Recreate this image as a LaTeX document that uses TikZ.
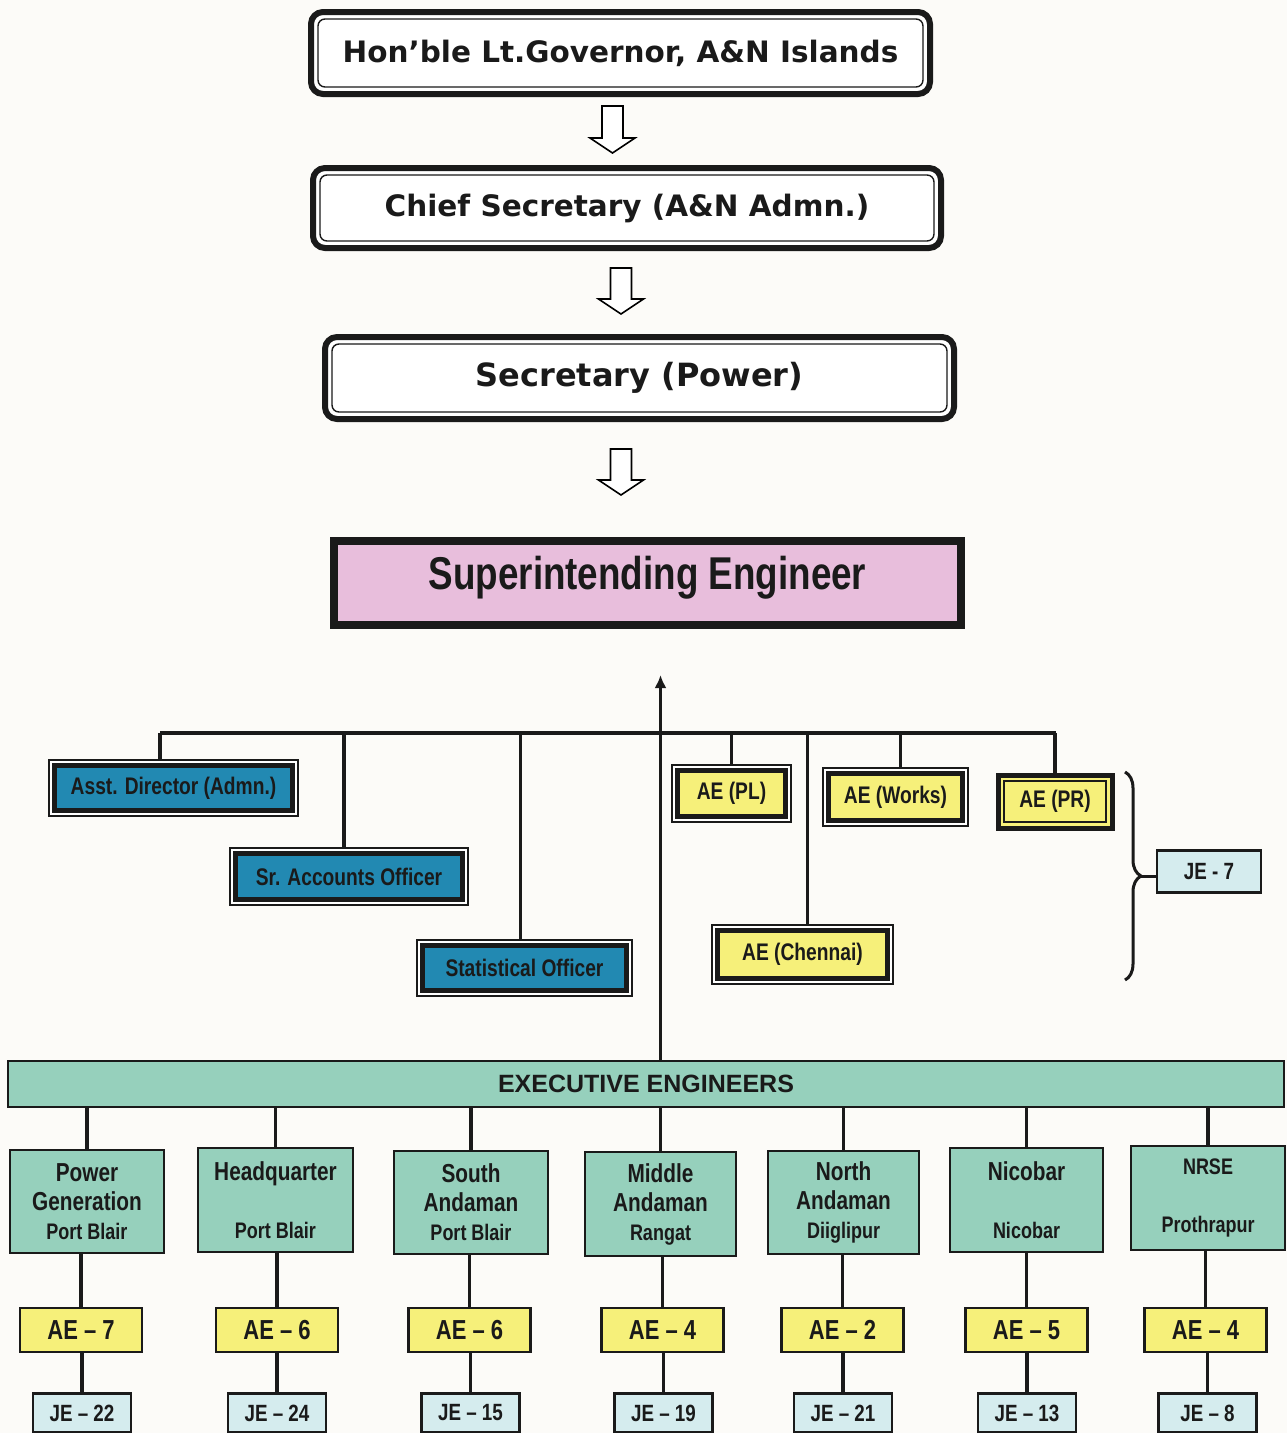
\documentclass[tikz,border=0pt]{standalone}
\usepackage{fontspec}
\setmainfont{Liberation Sans}
\newfontfamily\verdfont{DejaVu Sans}
\newfontfamily\narrfont[FakeStretch=0.8]{Liberation Sans}
\usetikzlibrary{arrows.meta,decorations.pathreplacing,calc}
\definecolor{inkc}{HTML}{1A1A1A}
\definecolor{tealbl}{HTML}{2289B2}
\definecolor{aeyel}{HTML}{F6F07A}
\definecolor{jeblue}{HTML}{D5ECEE}
\definecolor{eegreen}{HTML}{96D0BC}
\definecolor{sepink}{HTML}{E8BEDC}
\definecolor{paper}{HTML}{FCFBF8}
\newcommand{\fsz}[1]{\fontsize{#1}{#1}\selectfont}
\newcommand{\myHollowArrow}[3]{% x, top, bottom
  \draw[line width=1.6pt, fill=white, line join=miter]
    (#1-10.5,#2) -- (#1+10.5,#2) -- (#1+10.5,#3-15) -- (#1+22.5,#3-15)
    -- (#1,#3) -- (#1-22.5,#3-15) -- (#1-10.5,#3-15) -- cycle;}
\tikzset{
  topbox/.style={draw=inkc, line width=6pt, rounded corners=12pt, fill=white,
    inner sep=0pt, text=inkc, font=\verdfont\bfseries\fsz{29.5},
    path picture={\draw[line width=1.4pt, rounded corners=7pt]
      ([shift={(7pt,-7pt)}]path picture bounding box.north west) rectangle
      ([shift={(-7pt,7pt)}]path picture bounding box.south east);}},
  sebox/.style={draw=inkc, line width=8pt, fill=sepink, inner sep=0pt,
    text=inkc, font=\narrfont\bfseries\fsz{46}},
  dblbox/.style={draw=inkc, line width=1.2pt, fill=white, inner sep=0pt,
    text=inkc, font=\narrfont\bfseries\fsz{24},
    path picture={\draw[line width=4.5pt, fill=#1]
      ([shift={(5.5pt,-5.5pt)}]path picture bounding box.north west) rectangle
      ([shift={(-5.5pt,5.5pt)}]path picture bounding box.south east);}},
  revbox/.style={draw=inkc, line width=5pt, fill=aeyel, inner sep=0pt,
    text=inkc, font=\narrfont\bfseries\fsz{24},
    path picture={\draw[line width=1.2pt]
      ([shift={(6pt,-6pt)}]path picture bounding box.north west) rectangle
      ([shift={(-6pt,6pt)}]path picture bounding box.south east);}},
  eebar/.style={draw=inkc, line width=2.2pt, fill=eegreen, inner sep=0pt,
    text=inkc, font=\bfseries\fsz{25}},
  unitbox/.style={draw=inkc, line width=2.5pt, fill=eegreen, inner sep=0pt,
    text=inkc, align=center, font=\narrfont\bfseries\fontsize{26}{29}\selectfont},
  aebox/.style={draw=inkc, line width=2.5pt, fill=aeyel, inner sep=0pt,
    text=inkc, minimum width=122pt, minimum height=44pt,
    font=\narrfont\bfseries\fsz{27.5}},
  jebox/.style={draw=inkc, line width=2.2pt, fill=jeblue, inner sep=0pt,
    text=inkc, minimum width=98pt, minimum height=39pt,
    font=\narrfont\bfseries\fsz{23.5}},
  conn/.style={draw=inkc, line width=3.2pt},
}
\begin{document}
\begin{tikzpicture}[x=1pt,y=-1pt]
\useasboundingbox (0,0) rectangle (1287,1433);
\fill[paper] (0,0) rectangle (1287,1433);

% --- top chain ---
\node[topbox, minimum width=619pt, minimum height=82pt] (gov) at (620.5,53) {Hon’ble Lt.Governor, A\&N Islands};
\node[topbox, minimum width=628pt, minimum height=80pt] (cs) at (627,208) {Chief Secretary (A\&N Admn.)};
\node[topbox, minimum width=629pt, minimum height=82pt, font=\verdfont\bfseries\fsz{32}] (sec) at (639.5,378) {Secretary (Power)};
\myHollowArrow{612.5}{106}{153}
\myHollowArrow{621}{268}{314}
\myHollowArrow{621}{449}{495}

\node[sebox, minimum width=627pt, minimum height=84pt] (se) at (647.5,583) {\raisebox{5pt}[\height][\depth]{Superintending Engineer}};

% --- staff boxes ---
\node[dblbox=tealbl, minimum width=249pt, minimum height=56pt] (ad) at (173.5,788) {Asst. Director (Admn.)};
\node[dblbox=tealbl, minimum width=238pt, minimum height=57pt] (sao) at (349,876.5) {Sr. Accounts Officer};
\node[dblbox=tealbl, minimum width=215pt, minimum height=56pt] (so) at (524.5,968) {Statistical Officer};
\node[dblbox=aeyel, minimum width=119pt, minimum height=57pt] (aepl) at (731.5,793.5) {AE (PL)};
\node[dblbox=aeyel, minimum width=145pt, minimum height=58pt] (aew) at (895.5,797) {AE (Works)};
\node[revbox, minimum width=114pt, minimum height=53pt] (aepr) at (1055,801.5) {AE (PR)};
\node[dblbox=aeyel, minimum width=181pt, minimum height=59pt] (aec) at (802.5,954.5) {AE (Chennai)};
\node[jebox, minimum width=104pt, minimum height=42pt] (je7) at (1209,871.5) {JE - 7};

% bus
\coordinate (busL) at (160,733);
\coordinate (busR) at (1056,733);
\draw[conn] (busL) -- (busR);
\draw[conn] (busL) -- (busL |- ad.north);
\draw[conn] ([xshift=-5pt]sao.north) -- ([xshift=-5pt]sao.north |- busL);
\draw[conn] ([xshift=-4pt]so.north) -- ([xshift=-4pt]so.north |- busL);
\draw[conn] (aepl.north) -- (aepl.north |- busL);
\draw[conn] ([xshift=5pt]aec.north) -- ([xshift=5pt]aec.north |- busL);
\draw[conn] ([xshift=5pt]aew.north) -- ([xshift=5pt]aew.north |- busL);
\draw[conn] (aepr.north) -- (aepr.north |- busL);

% brace to JE-7
\draw[draw=inkc, line width=3pt, decorate,
  decoration={brace, amplitude=16pt, aspect=0.5}]
  (1125,772) -- (1125,980) coordinate[pos=0.5] (bmid);
\coordinate (btip) at ($(bmid)+(16,0)$);
\draw[draw=inkc, line width=3pt] (btip) -- (btip -| je7.west);

% --- executive engineers ---
\node[eebar, minimum width=1276pt, minimum height=46pt] (ee) at (646,1084) {EXECUTIVE ENGINEERS};
\coordinate (setip) at (660.5,675);
\draw[conn, -{Latex[length=13pt,width=12pt]}] (ee.north -| setip) -- (setip);

\node[unitbox, minimum width=154pt, minimum height=103pt] (u1) at (87,1201.5)
  {Power\\Generation\\{\fontsize{22.5}{29}\selectfont Port Blair}};
\node[unitbox, minimum width=155pt, minimum height=104pt] (u2) at (275.5,1200)
  {Headquarter\\[29pt]{\fontsize{22.5}{29}\selectfont Port Blair}};
\node[unitbox, minimum width=154pt, minimum height=103pt] (u3) at (471,1202.5)
  {South\\Andaman\\{\fontsize{22.5}{29}\selectfont Port Blair}};
\node[unitbox, minimum width=151pt, minimum height=104pt] (u4) at (660.5,1204)
  {Middle\\Andaman\\{\fontsize{22.5}{29}\selectfont Rangat}};
\node[unitbox, minimum width=151pt, minimum height=103pt] (u5) at (843.5,1202.5)
  {North\\Andaman\\{\fontsize{22.5}{29}\selectfont Diiglipur}};
\node[unitbox, minimum width=153pt, minimum height=104pt] (u6) at (1026.5,1200)
  {Nicobar\\[29pt]{\fontsize{22.5}{29}\selectfont Nicobar}};
\node[unitbox, minimum width=154pt, minimum height=104pt] (u7) at (1208,1198)
  {{\fontsize{22.5}{29}\selectfont NRSE}\\[29pt]{\fontsize{22.5}{29}\selectfont Prothrapur}};

\node[aebox] (a1) at (81,1330) {AE – 7};
\node[aebox] (a2) at (277,1330) {AE – 6};
\node[aebox] (a3) at (469.5,1330) {AE – 6};
\node[aebox] (a4) at (662.5,1330) {AE – 4};
\node[aebox] (a5) at (842.5,1330) {AE – 2};
\node[aebox] (a6) at (1026.5,1330) {AE – 5};
\node[aebox] (a7) at (1205.5,1330) {AE – 4};

\node[jebox] (j1) at (82,1413) {JE – 22};
\node[jebox] (j2) at (277,1413) {JE – 24};
\node[jebox] (j3) at (470.5,1413) {JE – 15};
\node[jebox] (j4) at (663.5,1413) {JE – 19};
\node[jebox] (j5) at (843,1413) {JE – 21};
\node[jebox] (j6) at (1027,1413) {JE – 13};
\node[jebox] (j7) at (1207.5,1413) {JE – 8};

\foreach \i in {1,...,7}{
  \draw[conn] (u\i.north) -- (u\i.north |- ee.south);
  \draw[conn] (a\i.north) -- (a\i.north |- u\i.south);
  \draw[conn] (j\i.north) -- (j\i.north |- a\i.south);
}
\end{tikzpicture}
\end{document}
